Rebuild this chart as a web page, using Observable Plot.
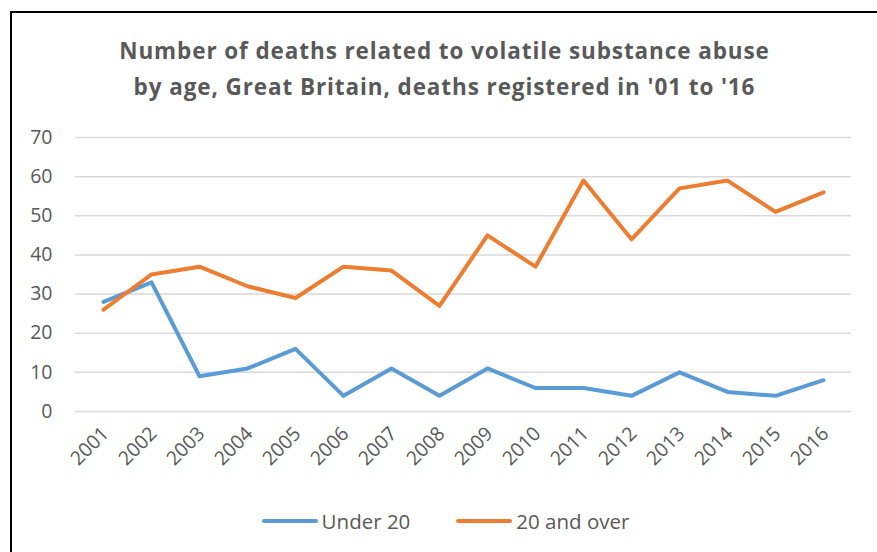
<!DOCTYPE html>
<html>
<head>
<meta charset="utf-8">
<script src="https://cdn.jsdelivr.net/npm/d3@7"></script>
<script src="https://cdn.jsdelivr.net/npm/@observablehq/plot@0.6"></script>
<style>
  html, body { margin: 0; padding: 0; background: #fff; }
  #wrap { position: relative; width: 877px; height: 552px; overflow: hidden; font-family: "Open Sans", Lato, sans-serif; }
  #box { position: absolute; left: 10px; top: 11px; width: 900px; height: 600px; border-left: 2px solid #000; border-top: 2px solid #000; }
  #chart { position: absolute; left: 0; top: 0; }
  #title { position: absolute; left: 12px; right: 0; top: 33px; text-align: center; color: #595959; font-weight: bold; font-size: 22.5px; letter-spacing: 0.9px; line-height: 36px; }
  #legend { position: absolute; left: 14px; right: 0; top: 507px; display: flex; justify-content: center; gap: 46px; color: #595959; font-size: 20.5px; }
  .item { display: flex; align-items: center; }
  .sw { width: 56px; height: 4.5px; border-radius: 2px; margin-right: 4px; }
</style>
</head>
<body>
<div id="wrap">
  <div id="box"></div>
  <div id="chart"></div>
  <div id="title">Number of deaths related to volatile substance abuse<br>by age, Great Britain, deaths registered in '01 to '16</div>
  <div id="legend"></div>
</div>
<script>
const years = ["2001","2002","2003","2004","2005","2006","2007","2008","2009","2010","2011","2012","2013","2014","2015","2016"];
const under20 = [28, 33, 9, 11, 16, 4, 11, 4, 11, 6, 6, 4, 10, 5, 4, 8];
const over20 = [26, 35, 37, 32, 29, 37, 36, 27, 45, 37, 59, 44, 57, 59, 51, 56];
const seriesNames = ["Under 20", "20 and over"];
const seriesColors = ["#5B9BD5", "#ED7D31"];
const yTicks = [0, 10, 20, 30, 40, 50, 60, 70];

const rows = [];
years.forEach((y, i) => {
  rows.push({year: y, value: under20[i], series: seriesNames[0]});
  rows.push({year: y, value: over20[i], series: seriesNames[1]});
});

const chart = Plot.plot({
  width: 877,
  height: 552,
  marginLeft: 75,
  marginRight: 26,
  marginTop: 137,
  marginBottom: 141,
  style: {fontFamily: "'Open Sans', Lato, sans-serif", fontSize: "19.5px", color: "#595959", background: "transparent"},
  x: {type: "point", domain: years, padding: 0.5, label: null},
  y: {domain: [0, 70], label: null},
  color: {domain: seriesNames, range: seriesColors},
  marks: [
    Plot.ruleY(yTicks, {stroke: "#D9D9D9", strokeWidth: 1.5}),
    Plot.axisY(yTicks, {tickSize: 0, tickPadding: 23, label: null, fill: "#595959"}),
    Plot.axisX({tickSize: 0, tickRotate: -45, tickPadding: 19, dx: 2, label: null, fill: "#595959"}),
    Plot.line(rows, {x: "year", y: "value", z: "series", stroke: "series", strokeWidth: 4, strokeLinecap: "round", strokeLinejoin: "round"})
  ]
});
document.getElementById("chart").appendChild(chart);

const legend = document.getElementById("legend");
seriesNames.forEach((name, i) => {
  const item = document.createElement("div");
  item.className = "item";
  const sw = document.createElement("div");
  sw.className = "sw";
  sw.style.background = seriesColors[i];
  const t = document.createElement("span");
  t.textContent = name;
  item.appendChild(sw);
  item.appendChild(t);
  legend.appendChild(item);
});
</script>
</body>
</html>
